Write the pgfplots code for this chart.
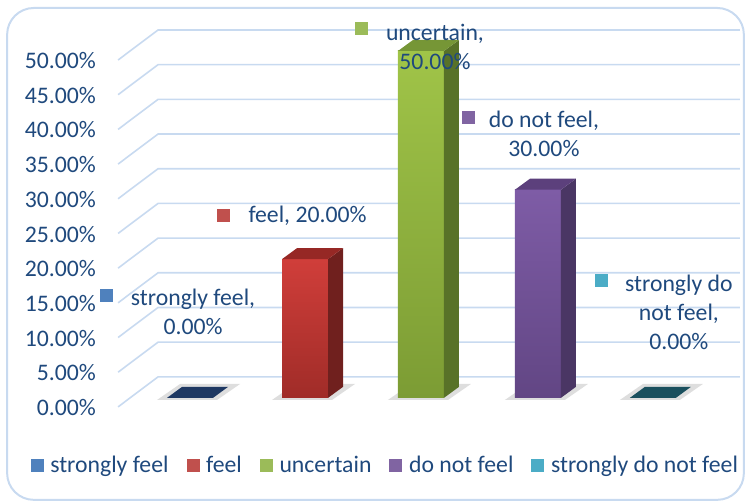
\documentclass[border=0pt]{standalone}
\usepackage{pgfplots}
\pgfplotsset{compat=1.18}
\usepackage{fontspec}
\setmainfont{Carlito}
\definecolor{txt}{RGB}{31,73,125}
\definecolor{gridc}{RGB}{200,218,240}
\definecolor{blueL}{RGB}{79,129,189}
\definecolor{blueTop}{RGB}{30,56,98}
\definecolor{redF1}{RGB}{208,62,58}
\definecolor{redF2}{RGB}{160,44,40}
\definecolor{redS}{RGB}{112,32,30}
\definecolor{redT}{RGB}{150,40,37}
\definecolor{redL}{RGB}{192,80,77}
\definecolor{grnF1}{RGB}{160,196,72}
\definecolor{grnF2}{RGB}{124,156,52}
\definecolor{grnS}{RGB}{88,114,40}
\definecolor{grnT}{RGB}{118,150,54}
\definecolor{grnL}{RGB}{155,187,89}
\definecolor{purF1}{RGB}{126,92,166}
\definecolor{purF2}{RGB}{98,70,132}
\definecolor{purS}{RGB}{74,54,100}
\definecolor{purT}{RGB}{92,64,124}
\definecolor{purL}{RGB}{128,100,162}
\definecolor{tealTop}{RGB}{26,80,94}
\definecolor{tealL}{RGB}{75,172,198}
\definecolor{shad}{RGB}{222,222,222}
\begin{document}
\fontsize{17.8}{21.75}\selectfont
\begin{tikzpicture}
\begin{axis}[
  x=0.75pt, y=5.205pt,
  xmin=0, xmax=746, ymin=-15.274, ymax=57.349,
  axis line style={draw=none},
  clip=false,
  xtick=\empty,
  ytick={0,5,...,50},
  major tick length=0pt,
  /pgf/number format/assume math mode=true,
  yticklabel={\pgfmathprintnumber[fixed,fixed zerofill,precision=2]{\tick}\%},
  yticklabel style={text=txt, anchor=east, xshift=78pt, yshift=-7.2pt},
  legend columns=5,
  legend style={at={(0.5174,0.0754)}, anchor=center, draw=none, fill=none,
    text=txt, /tikz/every even column/.append style={column sep=11pt},
    nodes={inner xsep=2.5pt}},
  legend image code/.code={\fill[#1, draw=none] (0pt,-4.9pt) rectangle (9.75pt,4.9pt);\path[draw=none] (12.25pt,0pt) circle (0pt);},
]
% bounding box and border
\path (axis cs:0,-15.274) rectangle (axis cs:746,57.349);
\draw[gridc, line width=1.5pt, rounded corners=20pt] (axis cs:7,56.2) rectangle (axis cs:744,-14.7);
% gridlines (back wall + floor diagonals)
\draw[gridc, line width=1.2pt] (axis cs:118,-1.3) -- (axis cs:158,3.03) -- (axis cs:740,3.03);
\draw[gridc, line width=1.2pt] (axis cs:118,3.7) -- (axis cs:158,8.03) -- (axis cs:740,8.03);
\draw[gridc, line width=1.2pt] (axis cs:118,8.7) -- (axis cs:158,13.03) -- (axis cs:740,13.03);
\draw[gridc, line width=1.2pt] (axis cs:118,13.7) -- (axis cs:158,18.03) -- (axis cs:740,18.03);
\draw[gridc, line width=1.2pt] (axis cs:118,18.7) -- (axis cs:158,23.03) -- (axis cs:740,23.03);
\draw[gridc, line width=1.2pt] (axis cs:118,23.7) -- (axis cs:158,28.03) -- (axis cs:740,28.03);
\draw[gridc, line width=1.2pt] (axis cs:118,28.7) -- (axis cs:158,33.03) -- (axis cs:740,33.03);
\draw[gridc, line width=1.2pt] (axis cs:118,33.7) -- (axis cs:158,38.03) -- (axis cs:740,38.03);
\draw[gridc, line width=1.2pt] (axis cs:118,38.7) -- (axis cs:158,43.03) -- (axis cs:740,43.03);
\draw[gridc, line width=1.2pt] (axis cs:118,43.7) -- (axis cs:158,48.03) -- (axis cs:740,48.03);
\draw[gridc, line width=1.2pt] (axis cs:118,48.7) -- (axis cs:158,53.03) -- (axis cs:740,53.03);
% shadows
\addplot[fill=shad, draw=none, forget plot] coordinates {(157,-0.3) (217,-0.3) (240,2.0) (180,2.0)} -- cycle;
\addplot[fill=shad, draw=none, forget plot] coordinates {(272,-0.3) (332,-0.3) (355,2.0) (295,2.0)} -- cycle;
\addplot[fill=shad, draw=none, forget plot] coordinates {(388,-0.3) (448,-0.3) (471,2.0) (411,2.0)} -- cycle;
\addplot[fill=shad, draw=none, forget plot] coordinates {(505,-0.3) (565,-0.3) (588,2.0) (528,2.0)} -- cycle;
\addplot[fill=shad, draw=none, forget plot] coordinates {(620,-0.3) (680,-0.3) (703,2.0) (643,2.0)} -- cycle;
% bar 1: strongly feel 0
\addplot[fill=blueTop, draw=none, forget plot] coordinates {(167,0) (213,0) (228,1.585) (182,1.585)} -- cycle;
% bar 2: feel 20
\addplot[ybar, bar width=46, draw=none, top color=redF1, bottom color=redF2, forget plot] coordinates {(305,20)};
\addplot[fill=redS, draw=none, forget plot] coordinates {(328,0) (343,1.585) (343,21.585) (328,20)} -- cycle;
\addplot[fill=redT, draw=none, forget plot] coordinates {(282,20) (297,21.585) (343,21.585) (328,20)} -- cycle;
% bar 3: uncertain 50
\addplot[ybar, bar width=46, draw=none, top color=grnF1, bottom color=grnF2, forget plot] coordinates {(421,50)};
\addplot[fill=grnS, draw=none, forget plot] coordinates {(444,0) (459,1.585) (459,51.585) (444,50)} -- cycle;
\addplot[fill=grnT, draw=none, forget plot] coordinates {(398,50) (413,51.585) (459,51.585) (444,50)} -- cycle;
% bar 4: do not feel 30
\addplot[ybar, bar width=46, draw=none, top color=purF1, bottom color=purF2, forget plot] coordinates {(538,30)};
\addplot[fill=purS, draw=none, forget plot] coordinates {(561,0) (576,1.585) (576,31.585) (561,30)} -- cycle;
\addplot[fill=purT, draw=none, forget plot] coordinates {(515,30) (530,31.585) (576,31.585) (561,30)} -- cycle;
% bar 5: strongly do not feel 0
\addplot[fill=tealTop, draw=none, forget plot] coordinates {(630,0) (676,0) (691,1.585) (645,1.585)} -- cycle;
% data labels
\node[fill=blueL, minimum size=9.75pt, inner sep=0pt] at (axis cs:106.5,14.77) {};
\node[text=txt, align=center] at (axis cs:193,12.46) {strongly feel,\\0.00\%};
\node[fill=redL, minimum size=9.75pt, inner sep=0pt] at (axis cs:223.5,26.22) {};
\node[text=txt] at (axis cs:307.5,26.22) {feel, 20.00\%};
\node[fill=grnL, minimum size=9.75pt, inner sep=0pt] at (axis cs:361.5,53.24) {};
\node[text=txt, align=center] at (axis cs:435,50.58) {uncertain,\\50.00\%};
\node[fill=purL, minimum size=9.75pt, inner sep=0pt] at (axis cs:468.5,40.35) {};
\node[text=txt, align=center] at (axis cs:544,38.04) {do not feel,\\30.00\%};
\node[fill=tealL, minimum size=9.75pt, inner sep=0pt] at (axis cs:602,16.93) {};
\node[text=txt, align=center] at (axis cs:679,12.39) {strongly do\\not feel,\\0.00\%};
% legend
\addlegendimage{fill=blueL}
\addlegendentry{strongly feel}
\addlegendimage{fill=redL}
\addlegendentry{feel}
\addlegendimage{fill=grnL}
\addlegendentry{uncertain}
\addlegendimage{fill=purL}
\addlegendentry{do not feel}
\addlegendimage{fill=tealL}
\addlegendentry{strongly do not feel}
\end{axis}
\end{tikzpicture}
\end{document}
